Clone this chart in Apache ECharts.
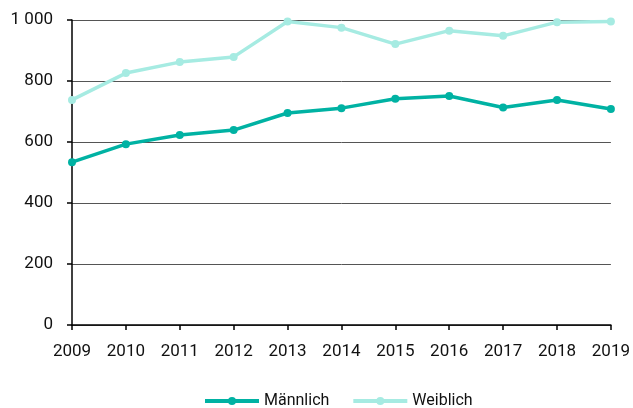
<!DOCTYPE html>
<html>
<head>
<meta charset="utf-8">
<script src="https://cdn.jsdelivr.net/npm/echarts@6/dist/echarts.min.js"></script>
<style>
    html, body { margin: 0; padding: 0; background: #fff; }
    #chart { width: 633px; height: 408px; }
</style>
</head>
<body>
<div id="chart"></div>
<script>
    // data
    const years = ['2009', '2010', '2011', '2012', '2013', '2014', '2015', '2016', '2017', '2018', '2019'];
    const maennlich = [534, 593, 623, 639, 695, 711, 742, 751, 713, 738, 708];
    const weiblich = [738, 826, 862, 879, 995, 975, 921, 965, 948, 993, 995];
    const yTicks = [0, 200, 400, 600, 800, 1000];

    const font = '"Roboto", "Liberation Sans", sans-serif';

    let myChart = echarts.init(document.getElementById('chart'));
    myChart.setOption({
        animation: false,
        grid: { left: 72, right: 22, top: 20, bottom: 83 },
        legend: {
            top: 388,
            left: 198,
            itemWidth: 54,
            itemHeight: 10,
            itemGap: 22,
            lineStyle: { width: 4 },
            textStyle: { fontFamily: font, fontSize: 16, color: '#111' },
            data: ['Männlich', 'Weiblich']
        },
        xAxis: {
            type: 'category',
            boundaryGap: false,
            data: years,
            axisLine: { lineStyle: { color: '#000', width: 1.5 } },
            axisTick: { show: true, length: 5, alignWithLabel: true, lineStyle: { color: '#000', width: 1.5 } },
            axisLabel: { fontFamily: font, fontSize: 17, color: '#111', margin: 18 }
        },
        yAxis: {
            type: 'value',
            min: yTicks[0],
            max: yTicks[yTicks.length - 1],
            interval: 200,
            axisLine: { show: true, lineStyle: { color: '#000', width: 1.5 } },
            axisTick: { show: true, length: 5, lineStyle: { color: '#000', width: 1.5 } },
            axisLabel: {
                fontFamily: font, fontSize: 17, color: '#111', margin: 19,
                formatter: v => v >= 1000 ? String(v).replace(/\B(?=(\d{3})+(?!\d))/g, ' ') : String(v)
            },
            splitLine: { lineStyle: { color: '#555', width: 1 } }
        },
        series: [
            {
                name: 'Männlich',
                type: 'line',
                data: maennlich,
                color: '#00b2a3',
                symbol: 'circle',
                symbolSize: 8,
                lineStyle: { width: 3.5 }
            },
            {
                name: 'Weiblich',
                type: 'line',
                data: weiblich,
                color: '#a6ebe2',
                symbol: 'circle',
                symbolSize: 8,
                lineStyle: { width: 3.5 }
            }
        ]
    });
</script>
</body>
</html>
